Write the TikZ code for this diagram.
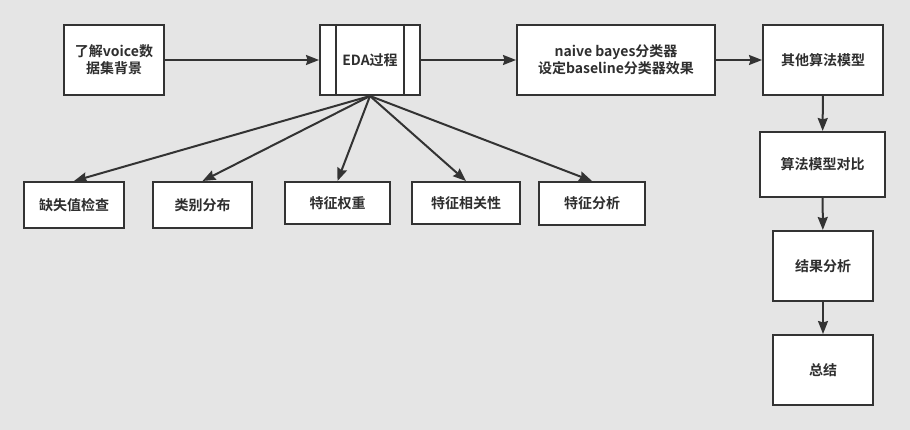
\documentclass[tikz,border=0pt]{standalone}
\usepackage{fontspec}
\setmainfont{Noto Sans CJK SC}[BoldFont={Noto Sans CJK SC Bold}]
\usetikzlibrary{arrows.meta}
\definecolor{bg}{RGB}{229,229,229}
\definecolor{ln}{RGB}{51,51,51}
\tikzset{
  box/.style={draw=ln, fill=white, line width=2pt, inner sep=0pt, align=center,
    font=\fontsize{14}{17}\selectfont\bfseries, text=ln!90!black},
  conn/.style={draw=ln, line width=2pt, -{Stealth[length=13pt,width=10pt,inset=1.5pt]}},
}
\begin{document}
\begin{tikzpicture}[x=1pt,y=-1pt]
\fill[bg] (0,0) rectangle (910,430);
\useasboundingbox (0,0) rectangle (910,430);
\node[box, minimum width=100pt, minimum height=70pt] (n1) at (114,60) {了解voice数\\据集背景};
\node[box, minimum width=100pt, minimum height=70pt] (eda) at (370,60) {EDA过程};
\draw[ln, line width=2pt] ([xshift=17pt]eda.north west) -- ([xshift=17pt]eda.south west)
  ([xshift=-17pt]eda.north east) -- ([xshift=-17pt]eda.south east);
\node[box, minimum width=198pt, minimum height=70pt] (nb) at (616,60) {naive bayes分类器\\设定baseline分类器效果};
\node[box, minimum width=120pt, minimum height=70pt] (other) at (823,60) {其他算法模型};
\node[box, minimum width=125pt, minimum height=65pt] (cmp) at (822.5,164.5) {算法模型对比};
\node[box, minimum width=100pt, minimum height=70pt] (res) at (823,266) {结果分析};
\node[box, minimum width=100pt, minimum height=70pt] (sum) at (823,370) {总结};
\node[box, minimum width=100pt, minimum height=46pt] (b1) at (74,205) {缺失值检查};
\node[box, minimum width=99pt, minimum height=46pt] (b2) at (202.5,205) {类别分布};
\node[box, minimum width=105pt, minimum height=42pt] (b3) at (337.5,203) {特征权重};
\node[box, minimum width=108pt, minimum height=42pt] (b4) at (466,203) {特征相关性};
\node[box, minimum width=106pt, minimum height=43pt] (b5) at (592,203.5) {特征分析};
\draw[conn] (n1) -- (eda);
\draw[conn] (eda) -- (nb);
\draw[conn] (nb) -- (other);
\draw[conn] (other) -- (cmp);
\draw[conn] (cmp) -- (res);
\draw[conn] (res) -- (sum);
\foreach \b in {b1,b2,b3,b4,b5} \draw[conn] (eda.south) -- (\b.north);
\end{tikzpicture}
\end{document}
